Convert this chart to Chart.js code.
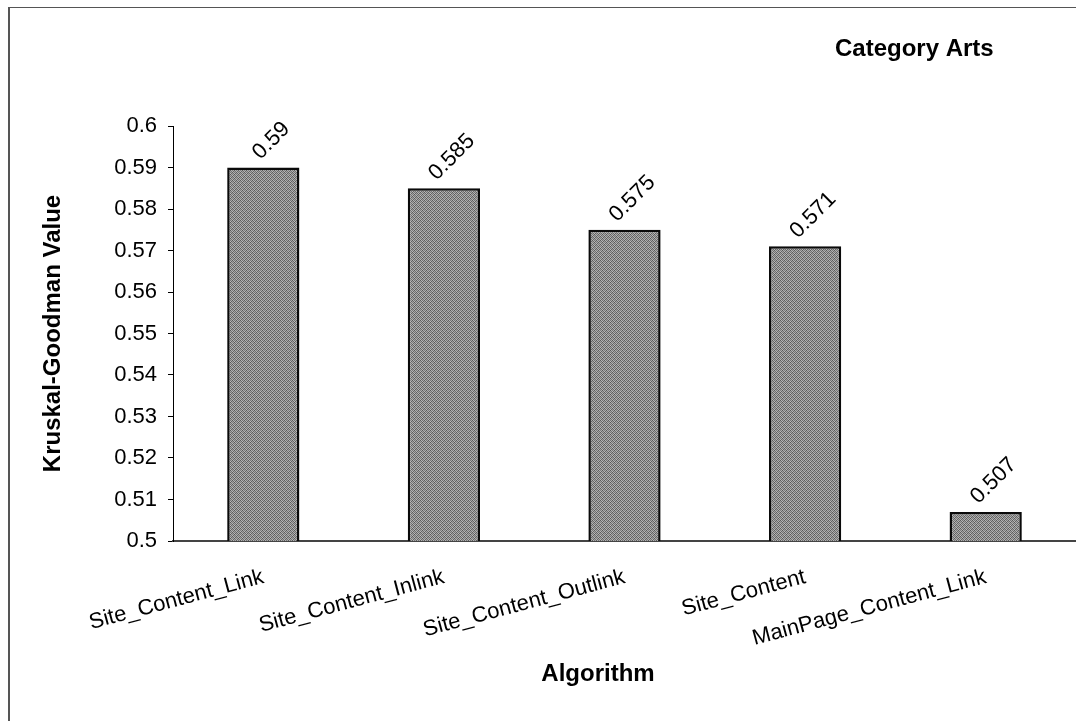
<!DOCTYPE html>
<html>
<head>
<meta charset="utf-8">
<title>Category Arts</title>
<script src="https://cdn.jsdelivr.net/npm/chart.js@4/dist/chart.umd.min.js"></script>
<style>
  body { margin: 0; background: #fff; }
  #wrap { position: relative; width: 1076px; height: 721px; overflow: hidden; }
  #frame { position: absolute; left: 8px; top: 7px; width: 1200px; height: 800px;
           border-left: 2px solid #555; border-top: 1px solid #555; }
  #myChart { position: absolute; left: 0; top: 0; }
</style>
</head>
<body>
<div id="wrap">
  <div id="frame"></div>
  <canvas id="myChart" width="1076" height="721"></canvas>
</div>
<script>
var algorithms = ['Site_Content_Link', 'Site_Content_Inlink', 'Site_Content_Outlink', 'Site_Content', 'MainPage_Content_Link'];
var kgValues = [0.59, 0.585, 0.575, 0.571, 0.507];
var yTickLabels = ['0.5', '0.51', '0.52', '0.53', '0.54', '0.55', '0.56', '0.57', '0.58', '0.59', '0.6'];

Chart.defaults.font.family = '"Liberation Sans", Arial, sans-serif';
Chart.defaults.color = '#000';

// halftone-ish gray fill for the bars
function makeDither() {
    var shades = [
        '#5c5c5c', '#b4b4b4', '#747474', '#a8a8a8',
        '#a0a0a0', '#686868', '#bcbcbc', '#606060',
        '#7c7c7c', '#acacac', '#585858', '#b0b0b0',
        '#b8b8b8', '#646464', '#a4a4a4', '#707070'
    ];
    var c = document.createElement('canvas');
    c.width = 4;
    c.height = 4;
    var g = c.getContext('2d');
    for (var i = 0; i < 16; i++) {
        g.fillStyle = shades[i];
        g.fillRect(i % 4, Math.floor(i / 4), 1, 1);
    }
    return g.createPattern(c, 'repeat');
}

// value over each bar (turned 45deg) plus the chart heading and x axis name
var barValueLabels = {
    id: 'barValueLabels',
    afterDatasetsDraw: function(chart) {
        var ctx = chart.ctx;
        var meta = chart.getDatasetMeta(0);
        ctx.save();
        ctx.fillStyle = '#000';
        ctx.font = '22px "Liberation Sans"';
        ctx.textAlign = 'center';
        ctx.textBaseline = 'middle';
        meta.data.forEach(function(bar, i) {
            var txt = String(kgValues[i]);
            var w = ctx.measureText(txt).width;
            var half = (w + 16) * 0.707 / 2;
            ctx.save();
            ctx.translate(bar.x + 8, bar.y - half - 6);
            ctx.rotate(-Math.PI / 4);
            ctx.fillText(txt, 0, 0);
            ctx.restore();
        });

        ctx.font = 'bold 24px "Liberation Sans"';
        ctx.textBaseline = 'alphabetic';
        ctx.textAlign = 'left';
        ctx.fillText('Category Arts', 835, 56);
        ctx.textAlign = 'center';
        ctx.fillText('Algorithm', 598, 681);
        ctx.restore();
    }
};

var ctx = document.getElementById('myChart');

var myChart = new Chart(ctx, {
    type: 'bar',
    data: {
        labels: algorithms,
        datasets: [{
            label: 'Kruskal-Goodman Value',
            data: kgValues,
            backgroundColor: makeDither(),
            borderColor: '#0a0a0a',
            borderWidth: 2.5,
            borderSkipped: 'bottom',
            categoryPercentage: 1.0,
            barPercentage: 0.4
        }]
    },
    options: {
        responsive: false,
        animation: false,
        layout: {
            padding: { top: 126, right: 0, bottom: 0, left: 0 }
        },
        plugins: {
            legend: { display: false },
            tooltip: { enabled: false }
        },
        scales: {
            x: {
                grid: { display: false },
                border: { color: '#444', width: 2 },
                ticks: {
                    autoSkip: false,
                    minRotation: 15,
                    maxRotation: 15,
                    padding: 15,
                    font: { size: 22 }
                },
                afterFit: function(scale) {
                    scale.height = 180;
                }
            },
            y: {
                min: 0.5,
                max: 0.6,
                ticks: {
                    stepSize: 0.01,
                    padding: 11,
                    font: { size: 22 },
                    callback: function(value, index) {
                        return yTickLabels[index];
                    }
                },
                grid: { drawOnChartArea: false, tickLength: 5, color: '#000' },
                border: { color: '#000', width: 1 },
                title: {
                    display: true,
                    text: 'Kruskal-Goodman Value',
                    font: { size: 24, weight: 'bold' },
                    padding: { top: 39, bottom: 0 }
                },
                afterFit: function(scale) {
                    scale.width = 173;
                }
            }
        }
    },
    plugins: [barValueLabels]
});
</script>
</body>
</html>
